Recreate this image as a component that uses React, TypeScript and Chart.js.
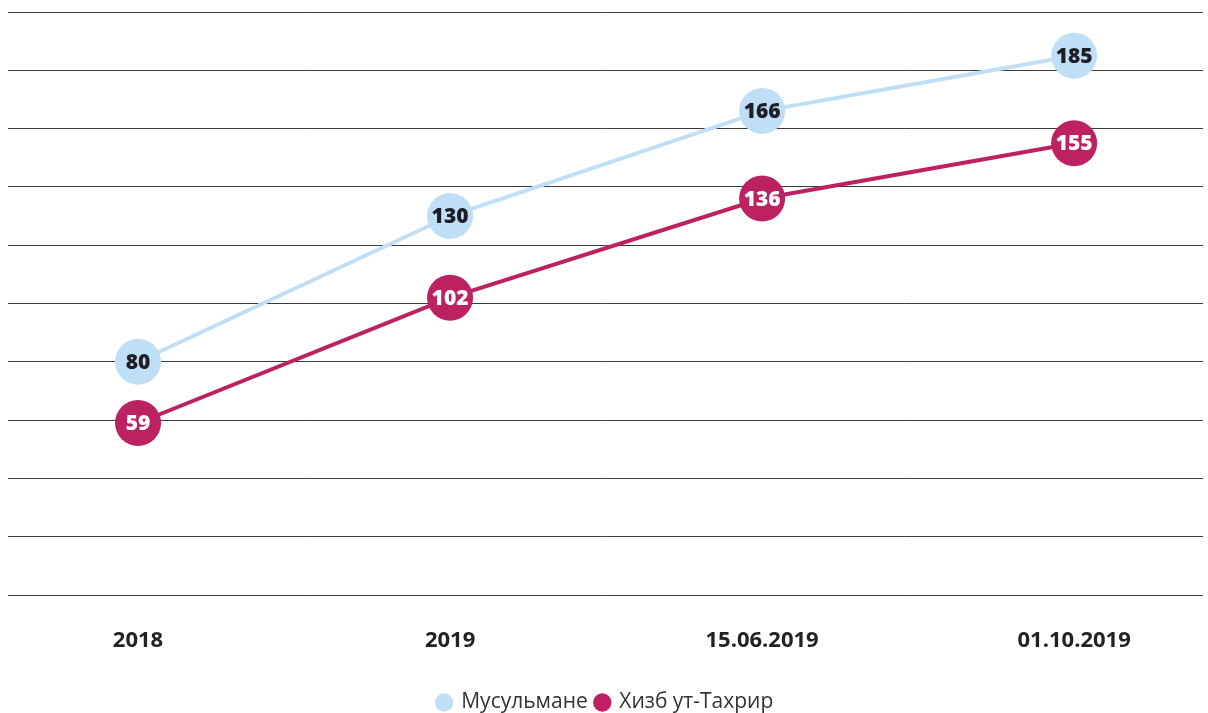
import React, { useEffect, useRef } from "react";
import { Chart, registerables } from "chart.js";

Chart.register(...registerables);

const categories = ["2018", "2019", "15.06.2019", "01.10.2019"];
const muslims = [80, 130, 166, 185];
const hizb = [59, 102, 136, 155];
const seriesNames = ["Мусульмане", "Хизб ут-Тахрир"];

const FONT = "'Open Sans', Lato, sans-serif";

const valueLabels = {
  id: "valueLabels",
  afterDatasetsDraw(chart: any) {
    const ctx = chart.ctx;
    const colors = ["#1e1e24", "#ffffff"];
    chart.data.datasets.forEach((ds: any, di: number) => {
      const meta = chart.getDatasetMeta(di);
      if (meta.hidden) return;
      meta.data.forEach((pt: any, i: number) => {
        ctx.save();
        ctx.font = `800 21px ${FONT}`;
        ctx.fillStyle = colors[di];
        ctx.textAlign = "center";
        ctx.textBaseline = "middle";
        ctx.fillText(String(ds.data[i].y), pt.x, pt.y + 1);
        ctx.restore();
      });
    });
  },
};

export default function App() {
  const ref = useRef<HTMLCanvasElement>(null);
  useEffect(() => {
    if (!ref.current) return;
    const chart = new Chart(ref.current, {
      type: "line",
      data: {
        datasets: [
          {
            label: seriesNames[0],
            data: muslims.map((v, i) => ({ x: i, y: v })),
            borderColor: "#bfdff7",
            backgroundColor: "#bfdff7",
            borderWidth: 4,
            pointRadius: 23,
            pointHoverRadius: 23,
            pointBorderWidth: 0,
            tension: 0,
          },
          {
            label: seriesNames[1],
            data: hizb.map((v, i) => ({ x: i, y: v })),
            borderColor: "#bc2262",
            backgroundColor: "#bc2262",
            borderWidth: 4,
            pointRadius: 23,
            pointHoverRadius: 23,
            pointBorderWidth: 0,
            tension: 0,
          },
        ],
      },
      options: {
        animation: false,
        responsive: true,
        maintainAspectRatio: false,
        clip: false as any,
        layout: { autoPadding: false, padding: { left: 8, right: 5, top: 12, bottom: -10 } },
        scales: {
          x: {
            type: "linear",
            min: -0.4167,
            max: 3.413,
            grid: { display: false },
            border: { display: false },
            ticks: {
              stepSize: 1,
              padding: 25,
              color: "#222",
              font: { family: FONT, size: 22, weight: "bold" },
              callback: (v: any) => (Number.isInteger(v) ? categories[v] : ""),
              maxRotation: 0,
            },
            afterBuildTicks: (axis: any) => {
              axis.ticks = categories.map((_, i) => ({ value: i }));
            },
            afterFit: (axis: any) => {
              axis.height = 89;
            },
          },
          y: {
            min: 0,
            max: 200,
            grid: { color: "#3a3a3a", lineWidth: 1, drawTicks: false },
            border: { display: false },
            ticks: { display: false, stepSize: 20 },
          },
        },
        plugins: {
          legend: {
            position: "bottom",
            labels: {
              usePointStyle: true,
              pointStyle: "circle",
              boxWidth: 13,
              boxHeight: 13,
              padding: 8,
              color: "#333",
              font: { family: FONT, size: 21 },
            },
          },
          tooltip: { enabled: false },
        },
      },
      plugins: [valueLabels],
    });
    return () => chart.destroy();
  }, []);
  return (
    <div style={{ position: "absolute", left: 0, top: 0, width: 1208, height: 713 }}>
      <canvas ref={ref} />
    </div>
  );
}
